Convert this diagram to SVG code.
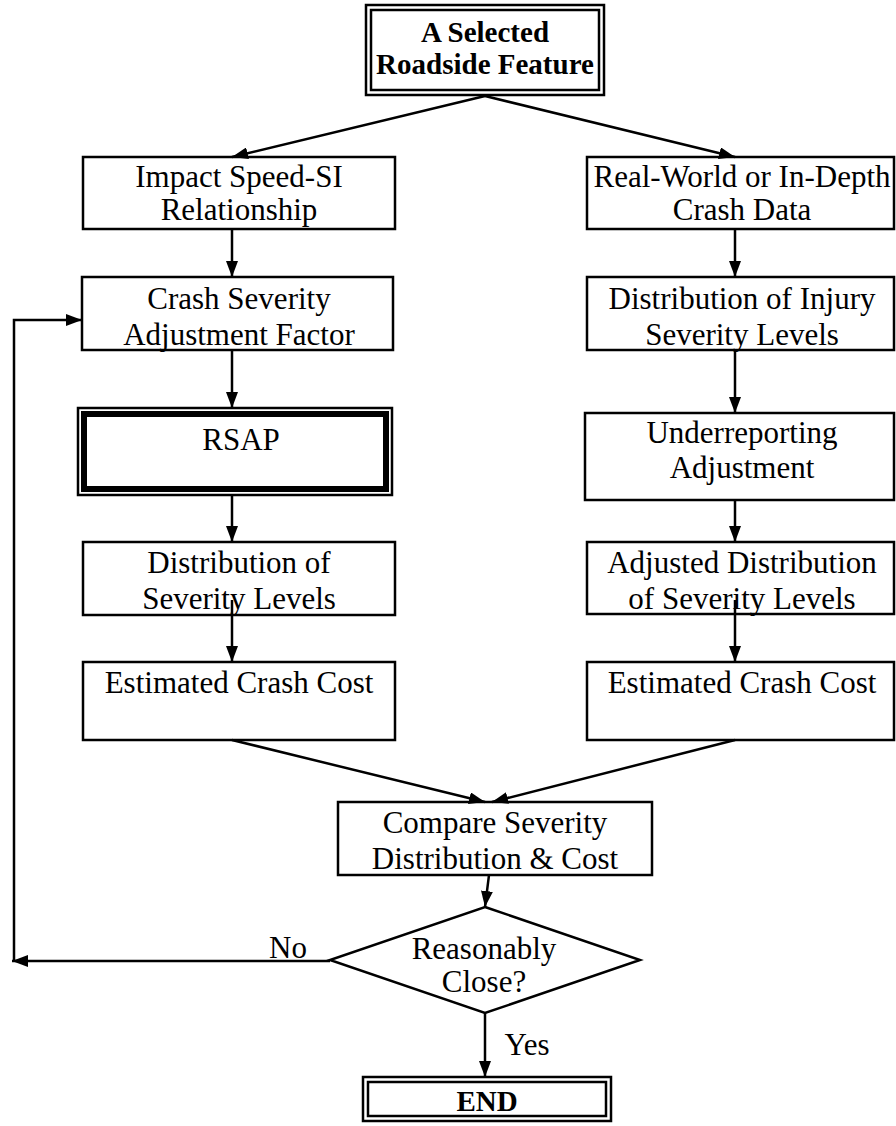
<svg xmlns="http://www.w3.org/2000/svg" width="896" height="1126" viewBox="0 0 896 1126">
<defs>
<marker id="ah" viewBox="0 0 16 12" refX="16" refY="6" markerWidth="16" markerHeight="12" markerUnits="userSpaceOnUse" orient="auto"><path d="M0,0 L16,6 L0,12 Z" fill="#000"/></marker>
</defs>
<style>
.box{fill:#fff;stroke:#000;stroke-width:2.5}
.t{font-family:"Liberation Serif","Times New Roman",serif;font-size:31px;fill:#000;text-anchor:middle}
.b{font-weight:bold;font-size:29px}
.c{fill:none;stroke:#000;stroke-width:2.5;marker-end:url(#ah)}
.l{fill:none;stroke:#000;stroke-width:2.5}
</style>
<rect width="896" height="1126" fill="#fff"/>
<g id="start">
<rect class="box" x="366" y="5" width="238" height="90" stroke-width="3"/>
<rect class="box" x="371" y="10" width="228" height="80" stroke-width="2"/>
<text class="t b" x="485" y="42">A Selected</text>
<text class="t b" x="485" y="74">Roadside Feature</text>
</g>
<g id="impact">
<rect class="box" x="83" y="157" width="312" height="72"/>
<text class="t" x="239" y="187">Impact Speed-SI</text>
<text class="t" x="239" y="220">Relationship</text>
</g>
<g id="realworld">
<rect class="box" x="587" y="157" width="307" height="72"/>
<text class="t" x="742" y="187">Real-World or In-Depth</text>
<text class="t" x="742" y="220">Crash Data</text>
</g>
<g id="csaf">
<rect class="box" x="82" y="277" width="311" height="73"/>
<text class="t" x="239" y="309">Crash Severity</text>
<text class="t" x="239" y="345">Adjustment Factor</text>
</g>
<g id="injury">
<rect class="box" x="587" y="277" width="307" height="73"/>
<text class="t" x="742" y="309">Distribution of Injury</text>
<text class="t" x="742" y="345">Severity Levels</text>
</g>
<g id="rsap">
<rect class="box" x="78" y="408" width="314" height="87" stroke-width="1.5"/>
<rect x="84.5" y="414.5" width="301" height="74" fill="#fff" stroke="#000" stroke-width="7"/>
<rect x="87.5" y="417.5" width="295" height="68" fill="none" stroke="#fff" stroke-width="1"/>
<text class="t" x="241" y="450">RSAP</text>
</g>
<g id="underreport">
<rect class="box" x="585" y="413" width="309" height="87"/>
<text class="t" x="742" y="443">Underreporting</text>
<text class="t" x="742" y="478">Adjustment</text>
</g>
<g id="distsev">
<rect class="box" x="83" y="542" width="312" height="73"/>
<text class="t" x="239" y="573">Distribution of</text>
<text class="t" x="239" y="609">Severity Levels</text>
</g>
<g id="adjdist">
<rect class="box" x="587" y="542" width="307" height="72"/>
<text class="t" x="742" y="573">Adjusted Distribution</text>
<text class="t" x="742" y="609">of Severity Levels</text>
</g>
<g id="costL">
<rect class="box" x="83" y="662" width="312" height="78"/>
<text class="t" x="239" y="693">Estimated Crash Cost</text>
</g>
<g id="costR">
<rect class="box" x="587" y="662" width="307" height="78"/>
<text class="t" x="742" y="693">Estimated Crash Cost</text>
</g>
<g id="compare">
<rect class="box" x="338" y="802" width="314" height="73"/>
<text class="t" x="495" y="833">Compare Severity</text>
<text class="t" x="495" y="869">Distribution &amp; Cost</text>
</g>
<g id="decision">
<polygon class="box" points="485,907 640,960 485,1013 330,960"/>
<text class="t" x="484" y="959">Reasonably</text>
<text class="t" x="484" y="992">Close?</text>
</g>
<g id="end">
<rect class="box" x="363" y="1077" width="248" height="44" stroke-width="3"/>
<rect class="box" x="368" y="1082" width="238" height="34" stroke-width="2"/>
<text class="t b" x="487" y="1111">END</text>
</g>
<g id="connectors">
<path class="c" d="M485,96 L232,157"/>
<path class="c" d="M485,96 L735,157"/>
<path class="c" d="M232,229 V277"/>
<path class="c" d="M735,229 V277"/>
<path class="c" d="M232,350 V408"/>
<path class="c" d="M735,350 V413"/>
<path class="c" d="M232,495 V542"/>
<path class="c" d="M735,500 V542"/>
<path class="c" d="M232,600 V662"/>
<path class="c" d="M735,600 V662"/>
<path class="c" d="M232,740 L485,802"/>
<path class="c" d="M735,740 L492,802"/>
<path class="c" d="M489,875 L485,907"/>
<path class="c" d="M330,961 H12"/>
<path class="c" d="M14,961 V320 H82"/>
<path class="c" d="M485,1013 V1077"/>
<text class="t" x="288" y="958">No</text>
<text class="t" x="527" y="1055">Yes</text>
</g>
</svg>
